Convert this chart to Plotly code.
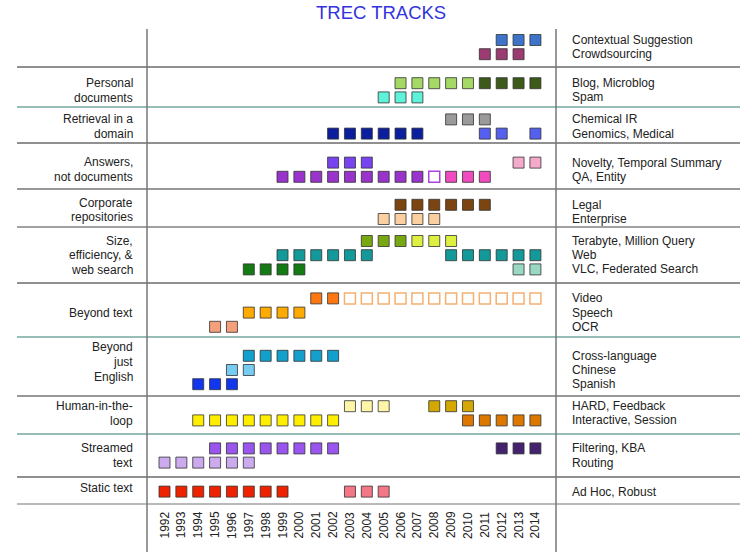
import plotly.graph_objects as go

# ---- data ----
years = [1992, 1993, 1994, 1995, 1996, 1997, 1998, 1999, 2000, 2001, 2002,
         2003, 2004, 2005, 2006, 2007, 2008, 2009, 2010, 2011, 2012, 2013, 2014]

group_labels = ["", "Personal<br>documents", "Retrieval in a<br>domain",
                "Answers,<br>not documents", "Corporate<br>repositories",
                "Size,<br>efficiency, &<br>web search", "Beyond text",
                "Beyond<br>just<br>English", "Human-in-the-<br>loop",
                "Streamed<br>text", "Static text"]

row_labels = [
    ["Contextual Suggestion", "Crowdsourcing"],
    ["Blog, Microblog", "Spam"],
    ["Chemical IR", "Genomics, Medical"],
    ["Novelty, Temporal Summary", "QA, Entity"],
    ["Legal", "Enterprise"],
    ["Terabyte, Million Query", "Web", "VLC, Federated Search"],
    ["Video", "Speech", "OCR"],
    ["Cross-language", "Chinese", "Spanish"],
    ["HARD, Feedback", "Interactive, Session"],
    ["Filtering, KBA", "Routing"],
    ["Ad Hoc, Robust"],
]

contextual_suggestion = [2012, 2013, 2014]
crowdsourcing = [2011, 2012, 2013]
blog = [2006, 2007, 2008, 2009, 2010]
microblog = [2011, 2012, 2013, 2014]
spam = [2005, 2006, 2007]
chemical_ir = [2009, 2010, 2011]
genomics = [2002, 2003, 2004, 2005, 2006, 2007]
medical = [2011, 2012, 2014]
novelty = [2002, 2003, 2004]
temporal_summary = [2013, 2014]
qa = [1999, 2000, 2001, 2002, 2003, 2004, 2005, 2006, 2007]
qa_2008 = [2008]
entity = [2009, 2010, 2011]
legal = [2006, 2007, 2008, 2009, 2010, 2011]
enterprise = [2005, 2006, 2007, 2008]
terabyte = [2004, 2005, 2006]
million_query = [2007, 2008, 2009]
web = [1999, 2000, 2001, 2002, 2003, 2004, 2009, 2010, 2011, 2012, 2013, 2014]
vlc = [1997, 1998, 1999, 2000]
federated_search = [2013, 2014]
video = [2001, 2002]
video_trecvid = [2003, 2004, 2005, 2006, 2007, 2008, 2009, 2010, 2011, 2012, 2013, 2014]
speech = [1997, 1998, 1999, 2000]
ocr = [1995, 1996]
cross_language = [1997, 1998, 1999, 2000, 2001, 2002]
chinese = [1996, 1997]
spanish = [1994, 1995, 1996]
hard = [2003, 2004, 2005]
feedback = [2008, 2009, 2010]
interactive = [1994, 1995, 1996, 1997, 1998, 1999, 2000, 2001, 2002]
session = [2010, 2011, 2012, 2013, 2014]
filtering = [1995, 1996, 1997, 1998, 1999, 2000, 2001, 2002]
kba = [2012, 2013, 2014]
routing = [1992, 1993, 1994, 1995, 1996, 1997]
ad_hoc = [1992, 1993, 1994, 1995, 1996, 1997, 1998, 1999]
robust = [2003, 2004, 2005]

# (group, row within group, years, fill colour, hollow)
series = [
    (0, 0, contextual_suggestion, "#3d73c8", False),
    (0, 1, crowdsourcing, "#9c3a72", False),
    (1, 0, blog, "#a6d865", False),
    (1, 0, microblog, "#3d5a1a", False),
    (1, 1, spam, "#5ef2da", False),
    (2, 0, chemical_ir, "#9a9a9a", False),
    (2, 1, genomics, "#0a1e9e", False),
    (2, 1, medical, "#5560f0", False),
    (3, 0, novelty, "#7744f0", False),
    (3, 0, temporal_summary, "#f5aacc", False),
    (3, 1, qa, "#9933cc", False),
    (3, 1, qa_2008, "#aa44dd", True),
    (3, 1, entity, "#f04cc0", False),
    (4, 0, legal, "#7a4510", False),
    (4, 1, enterprise, "#fccfa0", False),
    (5, 0, terabyte, "#77a812", False),
    (5, 0, million_query, "#ddf040", False),
    (5, 1, web, "#14999a", False),
    (5, 2, vlc, "#147a14", False),
    (5, 2, federated_search, "#99d9c4", False),
    (6, 0, video, "#ff7711", False),
    (6, 0, video_trecvid, "#f4b070", True),
    (6, 1, speech, "#ffaa00", False),
    (6, 2, ocr, "#f5a07a", False),
    (7, 0, cross_language, "#14a0cc", False),
    (7, 1, chinese, "#77ccf2", False),
    (7, 2, spanish, "#1136ee", False),
    (8, 0, hard, "#fff5a8", False),
    (8, 0, feedback, "#d4a800", False),
    (8, 1, interactive, "#ffee00", False),
    (8, 1, session, "#dd7700", False),
    (9, 0, filtering, "#9955ee", False),
    (9, 0, kba, "#44226e", False),
    (9, 1, routing, "#ccaaee", False),
    (10, 0, ad_hoc, "#ee2200", False),
    (10, 0, robust, "#f47788", False),
]

# ---- layout (pixel based) ----
W, H = 752, 554
px_per_year = 16.86
x_first = 164.5
row_step = 14.2
line_step = 14.6
group_gap = [29, 22, 29, 28, 22, 29, 29, 22, 28, 29]
label_shift = {7: -8, 10: -4, 4: -2}
separators = [(67, "#222222"), (107, "#2e7d6e"), (143, "#222222"),
              (189, "#333333"), (227, "#444444"), (283, "#222222"),
              (337, "#2e7d6e"), (396, "#333333"), (434, "#2e7d6e"),
              (477, "#222222"), (504, "#777777")]
FONT = "Liberation Sans, Arial, sans-serif"

row_y = []
y = 40
for g, rows in enumerate(row_labels):
    ys = []
    for r in range(len(rows)):
        ys.append(y)
        if r < len(rows) - 1:
            y += row_step
    row_y.append(ys)
    if g < len(group_gap):
        y += group_gap[g]

fig = go.Figure()

for g, r, yrs, color, hollow in series:
    fig.add_trace(go.Scatter(
        x=yrs,
        y=[row_y[g][r]] * len(yrs),
        mode="markers",
        marker=dict(
            symbol="square",
            size=11,
            color="white" if hollow else color,
            line=dict(color=color if hollow else "rgba(50,50,50,0.8)",
                      width=1.5 if hollow else 1),
        ),
        hoverinfo="x",
        showlegend=False,
    ))

annotations = []
# title
annotations.append(dict(x=381 / W, y=12, xref="paper", yref="y", text="TREC TRACKS",
                        showarrow=False, font=dict(family=FONT, size=18.5, color="#3333dd")))
# group labels (left), one annotation per text line
for g, lab in enumerate(group_labels):
    if not lab:
        continue
    lines = lab.split("<br>")
    yc = sum(row_y[g]) / len(row_y[g]) + label_shift.get(g, 0)
    y_top = yc - (len(lines) - 1) * line_step / 2
    for i, ln in enumerate(lines):
        annotations.append(dict(x=135 / W, y=y_top + i * line_step, xref="paper", yref="y",
                                text=ln, xanchor="right", align="right", showarrow=False,
                                font=dict(family=FONT, size=12, color="#222222")))
# track labels (right)
for g, rows in enumerate(row_labels):
    for r, lab in enumerate(rows):
        annotations.append(dict(x=570 / W, y=row_y[g][r], xref="paper", yref="y",
                                text=lab, xanchor="left", showarrow=False,
                                font=dict(family=FONT, size=12, color="#222222")))
# year labels
for yr in years:
    annotations.append(dict(x=yr, y=525, xref="x", yref="y", text=str(yr),
                            textangle=-90, showarrow=False,
                            font=dict(family=FONT, size=12, color="#222222")))

shapes = []
for sy, col in separators:
    shapes.append(dict(type="line", xref="paper", yref="y", x0=17 / W, x1=740 / W,
                       y0=sy, y1=sy, line=dict(color=col, width=1.2)))
for vx in (147, 556):
    shapes.append(dict(type="line", xref="paper", yref="y", x0=vx / W, x1=vx / W,
                       y0=29, y1=552, line=dict(color="#777777", width=1.5)))

x_lo = 1992 - x_first / px_per_year
x_hi = 1992 + (W - x_first) / px_per_year

fig.update_layout(
    width=W, height=H,
    margin=dict(l=0, r=0, t=0, b=0),
    plot_bgcolor="white", paper_bgcolor="white",
    xaxis=dict(range=[x_lo, x_hi], visible=False, fixedrange=True),
    yaxis=dict(range=[H, 0], visible=False, fixedrange=True),
    annotations=annotations,
    shapes=shapes,
)

fig.write_html("out.html", post_script="document.body.style.margin='0';",
               config={"displayModeBar": False})
